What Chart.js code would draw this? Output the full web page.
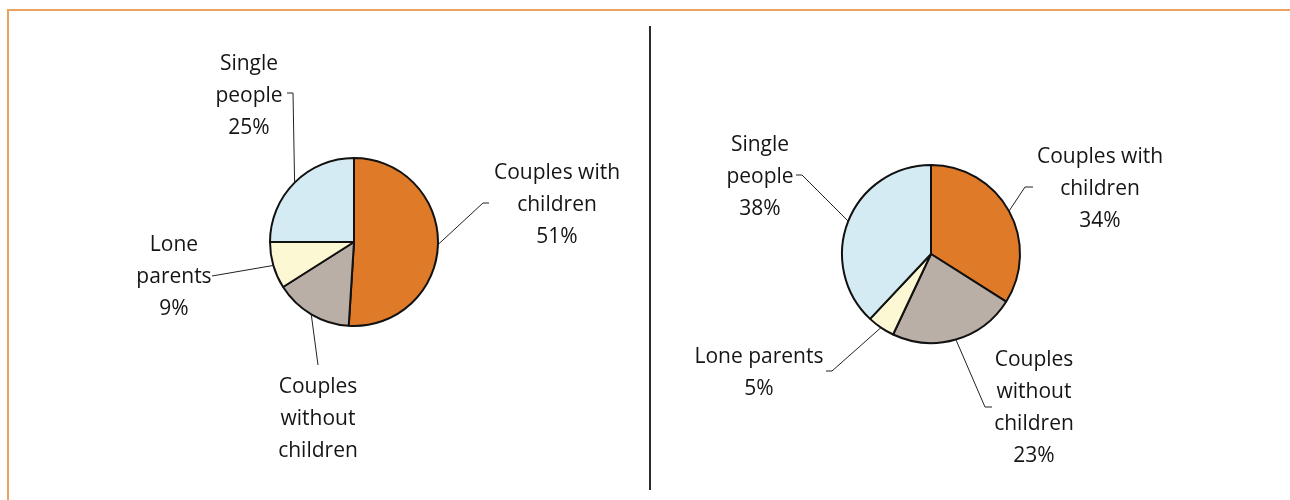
<!DOCTYPE html>
<html>
<head>
<meta charset="utf-8">
<script src="https://cdn.jsdelivr.net/npm/chart.js@4/dist/chart.umd.min.js"></script>
<style>
  html, body { margin: 0; padding: 0; background: #fff; }
  #wrap { position: relative; width: 1290px; height: 500px; overflow: hidden; }
  #wrap canvas { position: absolute; left: 0; top: 0; }
  .frame-top { position: absolute; left: 7px; top: 9px; width: 1283px; height: 2px; background: #eaa361; }
  .frame-left { position: absolute; left: 7px; top: 9px; width: 2px; height: 491px; background: #eaa361; }
  .divider { position: absolute; left: 649px; top: 26px; width: 2px; height: 464px; background: #2b2b2b; }
</style>
</head>
<body>
<div id="wrap">
  <div class="frame-top"></div>
  <div class="frame-left"></div>
  <div class="divider"></div>
  <canvas id="leftPie" width="1290" height="500"></canvas>
  <canvas id="rightPie" width="1290" height="500"></canvas>
</div>
<script>
// household types, clockwise from 12 o'clock
const categories = ['Couples with children', 'Couples without children', 'Lone parents', 'Single people'];
const leftValues = [51, 15, 9, 25];
const rightValues = [34, 23, 5, 38];
const leftShowValue = [true, false, true, true];
const rightShowValue = [true, true, true, true];

// text lines shown for each category
const labelLines = [
    ['Couples with', 'children'],
    ['Couples', 'without', 'children'],
    ['Lone', 'parents'],
    ['Single', 'people'],
];
const rightLabelLines = [
    ['Couples with', 'children'],
    ['Couples', 'without', 'children'],
    ['Lone parents'],
    ['Single', 'people'],
];

const sliceColors = ['#df7a28', '#b9afa6', '#fcf8d3', '#d5ebf3'];

// where each callout sits: text centre x, first line y, and the leader path after the slice
const leftCallouts = [
    { x: 557, y: 173, path: [[483, 203], [489, 203]] },
    { x: 318, y: 387, path: [[318, 365]] },
    { x: 174, y: 245, path: [[212, 276]] },
    { x: 249, y: 64, path: [[293, 93], [287, 93]] },
];
const rightCallouts = [
    { x: 1100, y: 157, path: [[1025, 187], [1033, 187]] },
    { x: 1034, y: 360, path: [[985, 407], [992, 407]] },
    { x: 759, y: 357, path: [[832, 371], [826, 371]] },
    { x: 760, y: 145, path: [[802, 175], [796, 175]] },
];

const calloutPlugin = {
    id: 'callouts',
    afterDatasetsDraw(chart, args, opts) {
        const ctx = chart.ctx;
        const meta = chart.getDatasetMeta(0);
        const values = chart.data.datasets[0].data;
        ctx.save();
        meta.data.forEach((arc, i) => {
            const c = opts.callouts[i];
            const mid = (arc.startAngle + arc.endAngle) / 2;
            const sx = arc.x + Math.cos(mid) * arc.outerRadius;
            const sy = arc.y + Math.sin(mid) * arc.outerRadius;

            // leader line
            ctx.strokeStyle = '#222';
            ctx.lineWidth = 1;
            ctx.beginPath();
            ctx.moveTo(sx, sy);
            c.path.forEach(p => ctx.lineTo(p[0], p[1]));
            ctx.stroke();

            // label text
            const lines = opts.lines[i].slice();
            if (opts.showValue[i]) lines.push(values[i] + '%');
            ctx.fillStyle = '#151515';
            ctx.font = '21px "Open Sans"';
            ctx.textAlign = 'center';
            ctx.textBaseline = 'middle';
            lines.forEach((t, k) => ctx.fillText(t, c.x, c.y + k * opts.lineHeight));
        });
        ctx.restore();
    }
};

function makePie(id, values, radius, padding, lines, callouts, showValue) {
    return new Chart(document.getElementById(id), {
        type: 'pie',
        data: {
            labels: categories,
            datasets: [{
                data: values,
                backgroundColor: sliceColors,
                borderColor: '#111',
                borderWidth: 2,
            }],
        },
        options: {
            responsive: false,
            animation: false,
            radius: radius,
            layout: { padding: padding },
            plugins: {
                legend: { display: false },
                tooltip: { enabled: false },
                callouts: { callouts: callouts, lines: lines, showValue: showValue, lineHeight: 32 },
            },
        },
        plugins: [calloutPlugin],
    });
}

makePie('leftPie', leftValues, 84, { left: 0, right: 582, top: 0, bottom: 16 }, labelLines, leftCallouts, leftShowValue);
makePie('rightPie', rightValues, 89, { left: 572, right: 0, top: 8, bottom: 0 }, rightLabelLines, rightCallouts, rightShowValue);
</script>
</body>
</html>
